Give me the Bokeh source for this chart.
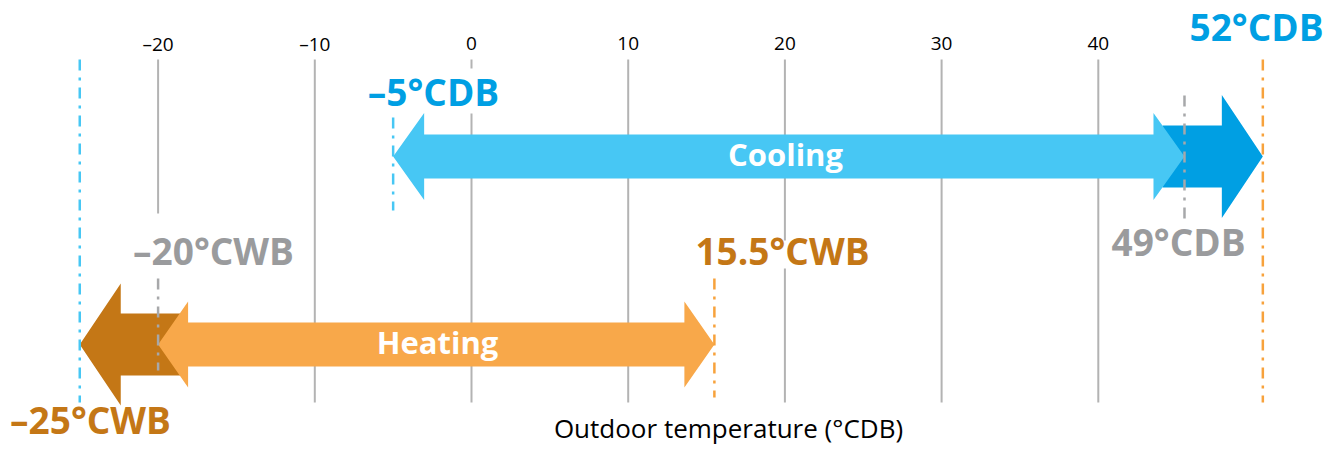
from bokeh.plotting import figure
from bokeh.models import Range1d, ColumnDataSource
from bokeh.core.properties import value
from bokeh.embed import file_html
from bokeh.resources import INLINE

# ---- data ----
ticks = [-20, -10, 0, 10, 20, 30, 40]
tick_labels = ["\u201320", "\u201310", "0", "10", "20", "30", "40"]

# cooling range: standard limits and extended limit (positions as drawn on the scale)
cool_pos = [-5, 45.5, 50.5]
cool_labels = ["\u20135\u00b0CDB", "49\u00b0CDB", "52\u00b0CDB"]
# heating range: standard limits and extended limit
heat_pos = [-20, 15.5, -25]
heat_labels = ["\u201320\u00b0CWB", "15.5\u00b0CWB", "\u201325\u00b0CWB"]

axis_title = "Outdoor temperature (\u00b0CDB)"

# ---- styles ----
LIGHT_BLUE = "#47C7F4"
DARK_BLUE = "#009FE3"
LIGHT_ORANGE = "#F8A84A"
DARK_ORANGE = "#C47716"
GRAY = "#9A9B9D"
GRID = "#B3B3B3"
FONT = value("Open Sans")

W, H = 1323, 447
PX = 15.67                      # pixels per degree
X0 = -471 / PX
X1 = X0 + W / PX

p = figure(width=W, height=H, x_range=Range1d(X0, X1), y_range=Range1d(H, 0),
           output_backend="svg", toolbar_location=None, min_border=0,
           x_axis_type=None, y_axis_type=None)
p.outline_line_color = None
p.xgrid.visible = False
p.ygrid.visible = False
p.background_fill_color = "white"


def shift(size):
    # baseline correction for text glyphs (fraction of the font size)
    return 0.45 * size


# grid lines
grid_bottom = [213 if t == -20 else 402 for t in ticks]
p.segment(x0=ticks, x1=ticks, y0=[59] * len(ticks), y1=grid_bottom,
          line_color=GRID, line_width=2)

# tick labels on top
p.text(x=ticks, y=[52 - shift(19)] * len(ticks), text=tick_labels, text_align="center",
       text_baseline="alphabetic", text_font=FONT, text_font_size="19px",
       text_color="black")

px = lambda pix: pix / PX + X0

# white boxes behind labels that cross grid lines
p.quad(left=[px(365), px(695)], right=[px(501), px(869)], top=[68, 240], bottom=[113, 268],
       fill_color="white", line_color=None)


def arrow(x_left, x_right, yc, shaft, head, head_px, left=True, right=True):
    hl = head_px / PX
    xs, ys = [], []
    if left:
        xs += [x_left, x_left + hl, x_left + hl]
        ys += [yc, yc - head, yc - shaft]
    else:
        xs += [x_left, x_left]
        ys += [yc, yc - shaft]
    if right:
        xs += [x_right - hl, x_right - hl, x_right, x_right - hl, x_right - hl]
        ys += [yc - shaft, yc - head, yc, yc + head, yc + shaft]
    else:
        xs += [x_right, x_right]
        ys += [yc - shaft, yc + shaft]
    if left:
        xs += [x_left + hl, x_left + hl]
        ys += [yc + shaft, yc + head]
    else:
        xs += [x_left]
        ys += [yc + shaft]
    return xs, ys


# dark (extended) arrows first
cx, cy = arrow(cool_pos[1] - 1.4, cool_pos[2], 156, 31, 61.5, 41, left=False, right=True)
hx, hy = arrow(heat_pos[2], heat_pos[0] + 1.45, 344, 31, 61, 41, left=True, right=False)
p.patches(xs=[cx, hx], ys=[cy, hy], fill_color=[DARK_BLUE, DARK_ORANGE], line_color=None)

# light (standard) arrows
cx, cy = arrow(cool_pos[0], cool_pos[1], 156, 22, 43.5, 31)
hx, hy = arrow(heat_pos[0], heat_pos[1], 344, 22, 43, 30)
p.patches(xs=[cx, hx], ys=[cy, hy], fill_color=[LIGHT_BLUE, LIGHT_ORANGE], line_color=None)

# limit lines (dash-dot)
dash = "11 7 3 7"
lines = ColumnDataSource(dict(
    x=[heat_pos[2], cool_pos[2], cool_pos[0], cool_pos[1], heat_pos[0], heat_pos[1]],
    y0=[59, 59, 117, 95, 278, 278],
    y1=[402, 402, 210, 224, 370, 397],
    c=[LIGHT_BLUE, "#F7A23C", LIGHT_BLUE, "#A7A8AA", "#A7A8AA", "#F7A23C"],
))
p.segment(x0="x", x1="x", y0="y0", y1="y1", line_color="c", line_width=2.5,
          line_dash=dash, source=lines)

# labels
LS = 37
lab = ColumnDataSource(dict(
    x=[px(433), px(1256), px(1178), px(213), px(782), px(90)],
    y=[b - shift(LS) for b in [108, 43, 258, 267, 267, 436]],
    t=[cool_labels[0], cool_labels[2], cool_labels[1]] + heat_labels,
    c=[DARK_BLUE, DARK_BLUE, GRAY, GRAY, DARK_ORANGE, DARK_ORANGE],
))
p.text(x="x", y="y", text="t", text_color="c", source=lab, text_align="center",
       text_baseline="alphabetic", text_font=FONT, text_font_size=f"{LS}px",
       text_font_style="bold")

# arrow names
p.text(x=[px(785), px(437)], y=[167 - shift(31), 355 - shift(31)], text=["Cooling", "Heating"],
       text_align="center", text_baseline="alphabetic", text_font=FONT,
       text_font_size="31px", text_font_style="bold", text_color="white")

# axis title
p.text(x=[px(728)], y=[439 - shift(26)], text=[axis_title], text_align="center",
       text_baseline="alphabetic", text_font=FONT, text_font_size="26px",
       text_color="black")

open("out.html", "w").write(file_html(p, INLINE))
